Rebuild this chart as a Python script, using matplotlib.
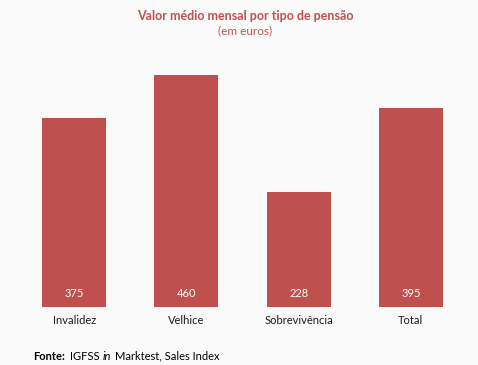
import matplotlib.pyplot as plt

# Dados
categorias = ["Invalidez", "Velhice", "Sobrevivência", "Total"]
valores = [375, 460, 228, 395]

COR_BARRA = "#C0504D"
FUNDO = "#FAFAFA"

plt.rcParams['font.family'] = ['Lato', 'DejaVu Sans']

fig = plt.figure(figsize=(4.78, 3.65), dpi=100)
fig.patch.set_facecolor(FUNDO)

W, H = 478, 365
# eixos: x de 18 a 467 px, y de 50 a 307 px
ax = fig.add_axes([18 / W, 1 - 307 / H, (467 - 18) / W, (307 - 50) / H])
ax.set_facecolor(FUNDO)

x = range(len(categorias))
barras = ax.bar(x, valores, width=0.57, color=COR_BARRA)

ax.set_xlim(-0.5, len(categorias) - 0.5)
ax.set_ylim(0, 510)

for xi, v in zip(x, valores):
    ax.text(xi, 26, str(v), ha="center", va="center", color="white", fontsize=8)

ax.set_xticks(list(x))
ax.set_xticklabels(categorias, fontsize=8, color="#1a1a1a")
ax.tick_params(axis="x", length=0, pad=6)
ax.set_yticks([])
for s in ax.spines.values():
    s.set_visible(False)

fig.text(245 / W, 1 - 16 / H, "Valor médio mensal por tipo de pensão",
         ha="center", va="center", color=COR_BARRA, fontsize=9, fontweight="bold")
fig.text(245 / W, 1 - 31 / H, "(em euros)",
         ha="center", va="center", color=COR_BARRA, fontsize=8.5)

# fonte em pedaços (negrito / normal / itálico), encadeados
y_fonte = 1 - 356 / H
t1 = fig.text(33 / W, y_fonte, "Fonte:", ha="left", va="center",
              fontsize=8, fontweight="bold", color="black")
t2 = fig.text(70 / W, y_fonte, "IGFSS", ha="left", va="center", fontsize=8, color="black")
t3 = fig.add_artist(plt.Annotation("in", xy=(1, 0.5), xycoords=t2, xytext=(2.5, 0),
                                   textcoords="offset points", ha="left", va="center",
                                   fontsize=8, style="italic", color="black"))
fig.add_artist(plt.Annotation("Marktest, Sales Index", xy=(1, 0.5), xycoords=t3,
                              xytext=(2.5, 0), textcoords="offset points",
                              ha="left", va="center", fontsize=8, color="black"))

fig.savefig("out.png", dpi=100, facecolor=FUNDO)
